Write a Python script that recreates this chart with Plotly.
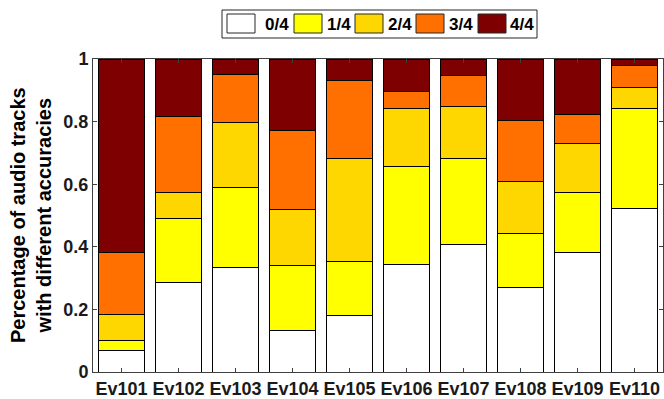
import plotly.graph_objects as go

# Events on the x axis
events = ["Ev101", "Ev102", "Ev103", "Ev104", "Ev105",
          "Ev106", "Ev107", "Ev108", "Ev109", "Ev110"]

# Share of audio tracks per accuracy level (stacked, each event sums to 1)
acc_0of4 = [0.068, 0.286, 0.334, 0.133, 0.181, 0.342, 0.408, 0.269, 0.381, 0.523]
acc_1of4 = [0.032, 0.205, 0.257, 0.206, 0.172, 0.316, 0.274, 0.172, 0.193, 0.318]
acc_2of4 = [0.084, 0.081, 0.205, 0.181, 0.330, 0.185, 0.167, 0.169, 0.157, 0.069]
acc_3of4 = [0.198, 0.245, 0.154, 0.252, 0.249, 0.052, 0.098, 0.195, 0.093, 0.069]
acc_4of4 = [0.618, 0.183, 0.050, 0.228, 0.068, 0.105, 0.053, 0.195, 0.176, 0.021]

series_names = ["0/4", "1/4", "2/4", "3/4", "4/4"]
series_values = [acc_0of4, acc_1of4, acc_2of4, acc_3of4, acc_4of4]
series_colors = ["#FFFFFF", "#FFFF00", "#FFD700", "#FF7000", "#7F0000"]

FONT = "Liberation Sans"
TEXT_COLOR = "#1a1a1a"

fig = go.Figure()
for name, vals, col in zip(series_names, series_values, series_colors):
    fig.add_trace(go.Bar(
        x=events, y=vals, name=name, width=0.8,
        marker=dict(color=col, line=dict(color="#000000", width=1)),
        showlegend=False,
    ))

# Plot area in pixels: x 93..663, y 59..372
W, H = 664, 399
L, R, T, B = 93, 1, 59, 27
pw, ph = W - L - R, H - T - B


def px_x(p):
    return (p - L) / pw


def px_y(p):
    return (H - B - p) / ph


shapes = []
annotations = []

# Legend frame and entries
shapes.append(dict(type="rect", xref="paper", yref="paper",
                   x0=px_x(222), x1=px_x(537), y0=px_y(38), y1=px_y(10),
                   line=dict(color="#262626", width=1), fillcolor="white"))
swatch_left = [227, 294, 355, 416, 478]
label_left = [263, 325, 386, 447, 508]
for name, col, sx, lx in zip(series_names, series_colors, swatch_left, label_left):
    shapes.append(dict(type="rect", xref="paper", yref="paper",
                       x0=px_x(sx), x1=px_x(sx + 28), y0=px_y(33), y1=px_y(14),
                       line=dict(color="#262626", width=1), fillcolor=col))
    annotations.append(dict(xref="paper", yref="paper", x=px_x(lx), y=px_y(24),
                            xanchor="left", yanchor="middle", showarrow=False,
                            text="<b>%s</b>" % name,
                            font=dict(family=FONT, size=17, color="#000000")))

# Y axis title (two lines, rotated)
annotations.append(dict(xref="paper", yref="paper", x=px_x(31), y=px_y(215),
                        xanchor="center", yanchor="middle", showarrow=False,
                        textangle=-90,
                        text="<b>Percentage of audio tracks<br>with different accuracies</b>",
                        font=dict(family=FONT, size=20, color="#000000")))

fig.update_layout(
    width=W, height=H,
    margin=dict(l=L, r=R, t=T, b=B, pad=0),
    barmode="stack",
    plot_bgcolor="white", paper_bgcolor="white",
    font=dict(family=FONT, size=17, color=TEXT_COLOR),
    shapes=shapes, annotations=annotations,
    showlegend=False,
)
fig.update_xaxes(
    range=[-0.5, 9.5], showgrid=False, zeroline=False,
    showline=True, linecolor="#404040", linewidth=1, mirror="ticks",
    ticks="inside", ticklen=4, tickcolor="#404040",
    tickfont=dict(family=FONT, size=18, color=TEXT_COLOR),
    tickprefix="<b>", ticksuffix="</b>",
)
fig.update_yaxes(
    range=[0, 1], dtick=0.2, showgrid=False, zeroline=False,
    showline=True, linecolor="#404040", linewidth=1, mirror="ticks",
    ticks="inside", ticklen=4, tickcolor="#404040",
    tickfont=dict(family=FONT, size=18, color=TEXT_COLOR),
    tickprefix="<b>", ticksuffix="</b>",
)

fig.write_html("out.html")
